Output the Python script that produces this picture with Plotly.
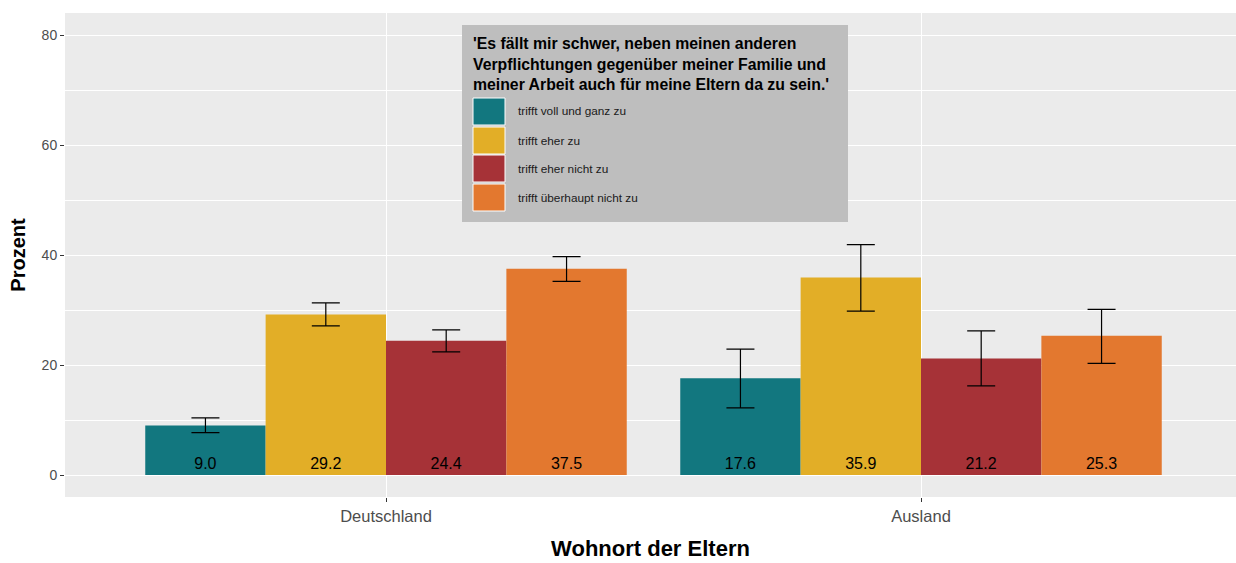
import plotly.graph_objects as go

categories = ["Deutschland", "Ausland"]
series_names = ["trifft voll und ganz zu", "trifft eher zu", "trifft eher nicht zu", "trifft überhaupt nicht zu"]
values = {
    "trifft voll und ganz zu": [9.0, 17.6],
    "trifft eher zu": [29.2, 35.9],
    "trifft eher nicht zu": [24.4, 21.2],
    "trifft überhaupt nicht zu": [37.5, 25.3],
}
err_upper = {
    "trifft voll und ganz zu": [10.4, 22.9],
    "trifft eher zu": [31.3, 41.9],
    "trifft eher nicht zu": [26.4, 26.2],
    "trifft überhaupt nicht zu": [39.7, 30.1],
}
err_lower = {
    "trifft voll und ganz zu": [7.7, 12.2],
    "trifft eher zu": [27.1, 29.8],
    "trifft eher nicht zu": [22.4, 16.2],
    "trifft überhaupt nicht zu": [35.2, 20.3],
}
colors = ["#12777F", "#E2AE27", "#A63237", "#E3782F"]
legend_title = "'Es fällt mir schwer, neben meinen anderen<br>Verpflichtungen gegenüber meiner Familie und<br>meiner Arbeit auch für meine Eltern da zu sein.'"
y_ticks = [0, 20, 40, 60, 80]

W, H = 1236, 563
ML, MT, MR = 65, 13, 0
PW = W - ML - MR
PH = 497 - 13
MB = H - MT - PH
X_RANGE = [-0.6, 1.6 - 6 / 535]

def px2x(p):
    return (p - ML) / PW

def px2y(p):
    return 1 - (p - MT) / PH

fig = go.Figure()
for name, col in zip(series_names, colors):
    v = values[name]
    up = [u - a for u, a in zip(err_upper[name], v)]
    lo = [a - l for a, l in zip(v, err_lower[name])]
    fig.add_trace(go.Bar(
        x=categories, y=v, name=name, marker=dict(color=col, line=dict(width=0)),
        error_y=dict(type="data", symmetric=False, array=up, arrayminus=lo,
                     color="black", thickness=1.2, width=14),
        text=[f"{a:.1f}" for a in v], textposition="inside", insidetextanchor="start",
        textfont=dict(color="black", size=16, family="Liberation Sans"),
        showlegend=False, cliponaxis=False,
    ))

# legend box (manual, ggplot-like)
shapes = [dict(type="rect", xref="paper", yref="paper",
               x0=px2x(462), x1=px2x(848), y0=px2y(222), y1=px2y(25),
               fillcolor="#BEBEBE", line=dict(width=0), layer="above")]
annotations = [dict(xref="paper", yref="paper", x=px2x(471), y=px2y(33),
                    xanchor="left", yanchor="top", align="left", showarrow=False,
                    text="<b>" + legend_title + "</b>",
                    font=dict(size=15.8, color="black", family="Liberation Sans"))]
sw_top = [98, 127, 155, 184]
for i, (name, col) in enumerate(zip(series_names, colors)):
    t = sw_top[i]
    shapes.append(dict(type="rect", xref="paper", yref="paper",
                       x0=px2x(473), x1=px2x(505), y0=px2y(t + 27), y1=px2y(t),
                       fillcolor=col, line=dict(color="white", width=1), layer="above"))
    annotations.append(dict(xref="paper", yref="paper", x=px2x(516), y=px2y(t + 13.5),
                            xanchor="left", yanchor="middle", showarrow=False, text=name,
                            font=dict(size=11.8, color="#1A1A1A", family="Liberation Sans")))

fig.update_layout(
    width=W, height=H,
    margin=dict(l=ML, r=MR, t=MT, b=MB, pad=0),
    paper_bgcolor="white", plot_bgcolor="#EBEBEB",
    barmode="group", bargap=0.1, bargroupgap=0,
    font=dict(family="Liberation Sans", color="#4D4D4D", size=14),
    shapes=shapes, annotations=annotations,
)
fig.update_xaxes(
    type="category", range=X_RANGE,
    showgrid=True, gridcolor="white", gridwidth=1.4,
    ticks="outside", ticklen=4, tickcolor="#333333", tickwidth=1,
    tickfont=dict(size=16.5, color="#4D4D4D"),
    title=dict(text="<b>Wohnort der Eltern</b>", font=dict(size=22, color="black"), standoff=16),
    zeroline=False,
)
fig.update_yaxes(
    range=[-4, 84], tickvals=y_ticks,
    showgrid=True, gridcolor="white", gridwidth=1.4,
    minor=dict(tickvals=[10, 30, 50, 70], showgrid=True, gridcolor="white", gridwidth=0.6),
    ticks="outside", ticklen=4, tickcolor="#333333", tickwidth=1,
    tickfont=dict(size=14, color="#4D4D4D"),
    title=dict(text="<b>Prozent</b>", font=dict(size=20, color="black"), standoff=10),
    zeroline=False,
)
fig.write_html("out.html", config={"displayModeBar": False},
               post_script="document.body.style.margin='0';document.body.style.overflow='hidden';")
